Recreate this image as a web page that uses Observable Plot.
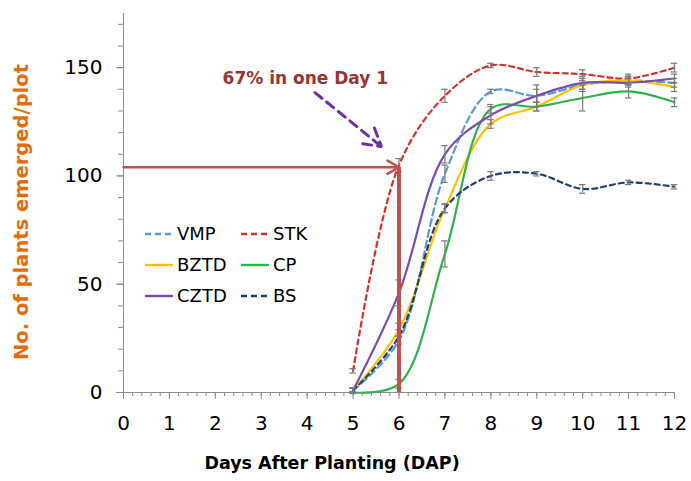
<!DOCTYPE html>
<html><head><meta charset="utf-8">
<script src="https://cdn.jsdelivr.net/npm/d3@7"></script>
<script src="https://cdn.jsdelivr.net/npm/@observablehq/plot@0.6"></script>
<style>
body{margin:0;background:#fff}
#wrap{position:relative;width:691px;height:481px;overflow:hidden}
#legend{position:absolute;left:0;top:0;pointer-events:none}
</style>
</head><body><div id="wrap"></div>
<script>
// ---- data ----
const days = [5, 6, 7, 8, 9, 10, 11, 12];
const seriesNames = ["VMP", "STK", "BZTD", "CP", "CZTD", "BS"];
const vmp  = [1, 24, 101, 139, 137, 142, 144, 143];
const stk  = [10, 105, 137, 151, 148, 147, 145, 150];
const bztd = [1, 29, 85, 124, 132, 142, 144, 141];
const cp   = [0, 4, 64, 131, 132, 136, 139, 134];
const cztd = [1, 46, 110, 128, 137, 143, 143, 145];
const bs   = [1, 26, 85, 100, 101, 94, 97, 95];
const vmpErr  = [1, 2, 4, 1, 3, 2, 2, 2];
const stkErr  = [1, 3, 3, 1, 2, 2, 2, 2];
const bztdErr = [1, 3, 2, 2, 2, 3, 2, 2];
const cpErr   = [0.5, 2, 6, 2, 2, 6, 3, 2];
const cztdErr = [1, 6, 4, 4, 5, 3, 2, 2];
const bsErr   = [1, 3, 2, 2, 1, 2, 1, 1];
const xTicks = [0,1,2,3,4,5,6,7,8,9,10,11,12];
const yTicks = [0, 50, 100, 150];
const refDay = [6];
const refValue = [104];
const noteText = ["67% in one Day 1"];
const notePos = [{x: 3.96, y: 145}];
const noteArrow = [{x1: 4.17, y1: 138.5, x2: 5.62, y2: 113.5}];

// ---- styles ----
const colors = {VMP:"#5b9bd5", STK:"#d8312c", BZTD:"#ffc000", CP:"#2fb34f", CZTD:"#7b4bb5", BS:"#203f78"};
const dashes = {VMP:"7,4", STK:"5,4", BZTD:null, CP:null, CZTD:null, BS:"5,4"};

const valuesBy = {VMP:vmp, STK:stk, BZTD:bztd, CP:cp, CZTD:cztd, BS:bs};
const errBy = {VMP:vmpErr, STK:stkErr, BZTD:bztdErr, CP:cpErr, CZTD:cztdErr, BS:bsErr};
const rows = [];
for (const s of seriesNames) days.forEach((d, i) => rows.push({series: s, day: d, value: valuesBy[s][i], err: errBy[s][i]}));

const lineMarks = seriesNames.map(s => Plot.line(rows.filter(r => r.series === s), {
  x: "day", y: "value", curve: "catmull-rom", stroke: colors[s], strokeWidth: 2.2,
  strokeDasharray: dashes[s] || undefined
}));

const capW = 0.07;
const chart = Plot.plot({
  width: 691, height: 481,
  marginLeft: 123, marginRight: 17, marginTop: 13, marginBottom: 89,
  x: {domain: [0, 12]},
  y: {domain: [0, 175]},
  style: {fontFamily: "DejaVu Sans", fontSize: "20px", color: "#000", background: "#fff"},
  marks: [
    Plot.ruleX([0], {y1: 0, y2: 175, stroke: "#8c8c8c"}),
    Plot.ruleY([0], {stroke: "#8c8c8c"}),
    Plot.axisY({ticks: d3.range(0, 171, 10), tickSize: 5, tickFormat: () => "", label: null, stroke: "#8c8c8c"}),
    Plot.axisY({ticks: yTicks, tickSize: 7, tickPadding: 14, label: null, stroke: "#8c8c8c", fill: "#000"}),
    Plot.axisX({ticks: d3.range(0, 61).map(i => i / 5), tickSize: 4, tickFormat: () => "", label: null, stroke: "#8c8c8c"}),
    Plot.axisX({ticks: xTicks, tickSize: 7, tickPadding: 16, label: null, stroke: "#8c8c8c", fill: "#000"}),
    ...lineMarks,
    Plot.ruleX(rows, {x: "day", y1: d => d.value - d.err, y2: d => d.value + d.err, stroke: "#7a7a7a", strokeWidth: 1.2}),
    Plot.ruleY(rows, {y: d => d.value + d.err, x1: d => d.day - capW, x2: d => d.day + capW, stroke: "#7a7a7a", strokeWidth: 1.2}),
    Plot.ruleY(rows, {y: d => d.value - d.err, x1: d => d.day - capW, x2: d => d.day + capW, stroke: "#7a7a7a", strokeWidth: 1.2}),
    Plot.arrow(refValue, {x1: 0, x2: refDay[0], y1: d => d, y2: d => d, stroke: "#c0504d", strokeWidth: 2.5, headLength: 8}),
    Plot.ruleX(refDay, {y1: 0, y2: refValue[0], stroke: "#c0504d", strokeWidth: 4}),
    Plot.arrow(noteArrow, {x1: "x1", y1: "y1", x2: "x2", y2: "y2", stroke: "#7030a0", strokeWidth: 3, strokeDasharray: "9,6", headLength: 10, bend: 0}),
    Plot.text(noteText, {x: () => notePos[0].x, y: () => notePos[0].y, text: d => d, fill: "#953735", fontWeight: "bold", fontSize: 17, fontFamily: "DejaVu Sans"}),
    Plot.text(["No. of plants emerged/plot"], {frameAnchor: "left", textAnchor: "middle", text: d => d, rotate: -90, dx: -102, dy: 9, fill: "#e46c0a", fontWeight: "bold", fontSize: 19.5}),
    Plot.text(["Days After Planting (DAP)"], {frameAnchor: "bottom", textAnchor: "middle", text: d => d, dx: -67, dy: 76, fill: "#000", fontWeight: "bold", fontSize: 17.5})
  ]
});
document.getElementById("wrap").appendChild(chart);

// ---- legend overlay ----
const legendLayout = [
  {s: "VMP", col: 0, row: 0}, {s: "STK", col: 1, row: 0},
  {s: "BZTD", col: 0, row: 1}, {s: "CP", col: 1, row: 1},
  {s: "CZTD", col: 0, row: 2}, {s: "BS", col: 1, row: 2}
];
const lg = d3.create("svg").attr("id", "legend").attr("width", 691).attr("height", 481);
for (const e of legendLayout) {
  const x0 = e.col === 0 ? 145 : 241;
  const y0 = 234 + e.row * 31;
  lg.append("line").attr("x1", x0).attr("x2", x0 + 28).attr("y1", y0).attr("y2", y0)
    .attr("stroke", colors[e.s]).attr("stroke-width", 2.4)
    .attr("stroke-dasharray", dashes[e.s] ? "6,4" : null);
  lg.append("text").attr("x", x0 + 32).attr("y", y0).attr("dy", "0.36em")
    .attr("font-family", "DejaVu Sans").attr("font-size", 18).attr("fill", "#000").text(e.s);
}
document.getElementById("wrap").appendChild(lg.node());
</script></body></html>
